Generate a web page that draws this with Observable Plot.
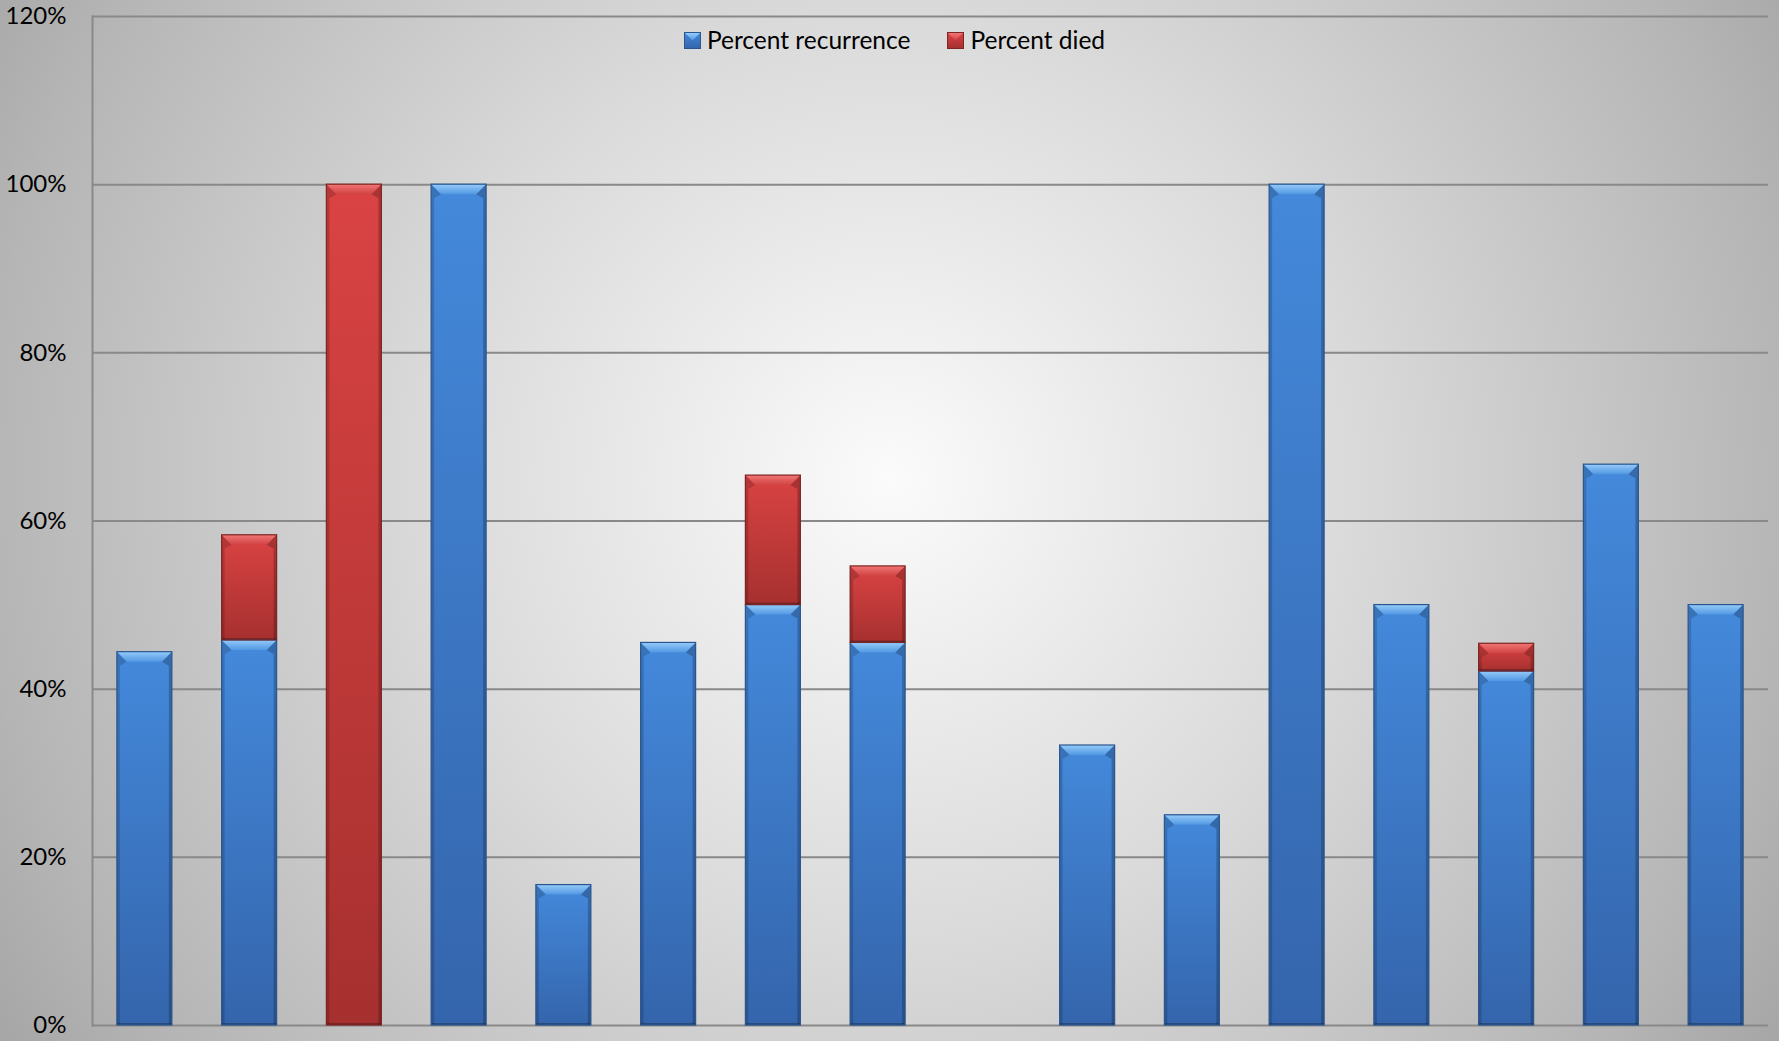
<!DOCTYPE html>
<html>
<head>
<meta charset="utf-8">
<script src="https://cdn.jsdelivr.net/npm/d3@7"></script>
<script src="https://cdn.jsdelivr.net/npm/@observablehq/plot@0.6"></script>
<style>
  html, body { margin: 0; padding: 0; width: 1779px; height: 1041px; overflow: hidden; }
  body {
    position: relative;
    font-family: Lato, "Open Sans", sans-serif;
    background: radial-gradient(circle farthest-corner at 50% 46%, #fbfbfb 0%, #dadada 44%, #b5b5b5 86%, #a6a6a6 100%);
  }
  #chart { position: absolute; left: 0; top: 0; }
  #legend {
    position: absolute; top: 27px; left: 5px; width: 1779px;
    display: flex; justify-content: center; gap: 37px;
    font-size: 24.5px; color: #000; line-height: 26px;
  }
  #legend .item { display: flex; align-items: center; gap: 6px; }
  #legend svg { display: block; }
</style>
</head>
<body>
<svg width="0" height="0" style="position:absolute">
  <defs>
    <linearGradient id="gBlue" x1="0" y1="0" x2="0" y2="1">
      <stop offset="0" stop-color="#4489db"/>
      <stop offset="1" stop-color="#3465ac"/>
    </linearGradient>
    <linearGradient id="gRed" x1="0" y1="0" x2="0" y2="1">
      <stop offset="0" stop-color="#da4343"/>
      <stop offset="1" stop-color="#a6302f"/>
    </linearGradient>
    <linearGradient id="capBlue" x1="0" y1="0" x2="0" y2="1">
      <stop offset="0" stop-color="#95cbf9"/>
      <stop offset="1" stop-color="#5198e3"/>
    </linearGradient>
    <linearGradient id="capRed" x1="0" y1="0" x2="0" y2="1">
      <stop offset="0" stop-color="#f27676"/>
      <stop offset="1" stop-color="#d04242"/>
    </linearGradient>
  </defs>
</svg>
<div id="chart"></div>
<div id="legend"></div>
<script>
// Sixteen groups; group 9 has no data.
const categories = ["1", "2", "3", "4", "5", "6", "7", "8", "9", "10", "11", "12", "13", "14", "15", "16"];
const seriesNames = ["Percent recurrence", "Percent died"];
const recurrence = [0.444, 0.458, 0, 1.0, 0.167, 0.455, 0.5, 0.455, null, 0.333, 0.25, 1.0, 0.5, 0.421, 0.667, 0.5];
const died =       [0, 0.125, 1.0, 0, 0, 0, 0.154, 0.091, null, 0, 0, 0, 0, 0.033, 0, 0];
const yTicks = [0, 0.2, 0.4, 0.6, 0.8, 1.0, 1.2];

const fills = ["url(#gBlue)", "url(#gRed)"];
const caps = {"url(#gBlue)": "url(#capBlue)", "url(#gRed)": "url(#capRed)"};
const edges = {"url(#gBlue)": "#2a568f", "url(#gRed)": "#7d2424"};

// Long table: one row per group and series, recurrence stacked below died.
const rows = [];
categories.forEach((c, i) => {
  rows.push({group: c, series: seriesNames[0], value: recurrence[i]});
  rows.push({group: c, series: seriesNames[1], value: died[i]});
});
const drawn = rows.filter(d => d.value != null && d.value > 0);

// Adds bevelled facets (lit top cap, shaded sides) to each rendered bar segment.
function bevel(index, scales, values, dimensions, context, next) {
  const g = next(index, scales, values, dimensions, context);
  const ns = "http://www.w3.org/2000/svg";
  for (const r of Array.from(g.querySelectorAll("rect"))) {
    const x = +r.getAttribute("x"), y = +r.getAttribute("y");
    const w = +r.getAttribute("width"), h = +r.getAttribute("height");
    const f = r.getAttribute("fill");
    r.setAttribute("stroke", "none");
    const b = Math.min(10, h / 2, w / 2);
    const s = 3;
    const add = (pts, fill) => {
      const p = document.createElementNS(ns, "polygon");
      p.setAttribute("points", pts.map(q => q.join(",")).join(" "));
      p.setAttribute("fill", fill);
      g.appendChild(p);
    };
    // side facets
    add([[x, y], [x + b, y + b], [x + s, y + b + 4], [x + s, y + h], [x, y + h]], "rgba(0,0,0,0.16)");
    add([[x + w, y], [x + w - b, y + b], [x + w - s, y + b + 4], [x + w - s, y + h], [x + w, y + h]], "rgba(0,0,0,0.22)");
    // bottom shading
    add([[x, y + h - 2], [x + w, y + h - 2], [x + w, y + h], [x, y + h]], "rgba(0,0,0,0.25)");
    // top cap
    add([[x, y], [x + w, y], [x + w - b, y + b], [x + b, y + b]], caps[f] || "#fff");
    // outline on top of the facets
    const o = document.createElementNS(ns, "rect");
    o.setAttribute("x", x); o.setAttribute("y", y);
    o.setAttribute("width", w); o.setAttribute("height", h);
    o.setAttribute("fill", "none");
    o.setAttribute("stroke", edges[f] || "#333");
    o.setAttribute("stroke-width", 1.2);
    g.appendChild(o);
  }
  return g;
}

const chart = Plot.plot({
  width: 1779,
  height: 1041,
  marginLeft: 92,
  marginRight: 11,
  marginTop: 16,
  marginBottom: 16,
  style: {background: "transparent", fontFamily: "Lato, 'Open Sans', sans-serif", fontSize: "24px", color: "#000", overflow: "visible"},
  x: {domain: categories, paddingInner: 0.475, paddingOuter: 0.2375, round: false, axis: null},
  y: {domain: [0, 1.2], axis: null},
  color: {domain: seriesNames, range: fills},
  marks: [
    Plot.gridY(yTicks, {stroke: "#898989", strokeOpacity: 1, strokeWidth: 2}),
    Plot.frame({anchor: "left", stroke: "#898989", strokeWidth: 2}),
    Plot.rectY(drawn, Plot.stackY({
      x: "group",
      y: "value",
      fill: "series",
      order: seriesNames,
      render: bevel
    })),
    Plot.axisY(yTicks, {
      tickFormat: d3.format(".0%"),
      tickSize: 0,
      tickPadding: 26,
      label: null,
      fontSize: 24,
      fill: "#000"
    })
  ]
});
document.getElementById("chart").appendChild(chart);

// Legend: bevelled swatch + series name.
const legend = d3.select("#legend");
seriesNames.forEach((name, i) => {
  const item = legend.append("div").attr("class", "item");
  const sw = item.append("svg").attr("width", 17).attr("height", 17);
  sw.append("rect").attr("x", 0.5).attr("y", 0.5).attr("width", 16).attr("height", 16)
    .attr("fill", fills[i]).attr("stroke", edges[fills[i]]).attr("stroke-width", 1);
  sw.append("polygon").attr("points", "1,1 16,1 8.5,8.5").attr("fill", caps[fills[i]]);
  item.append("span").text(name);
});
</script>
</body>
</html>
